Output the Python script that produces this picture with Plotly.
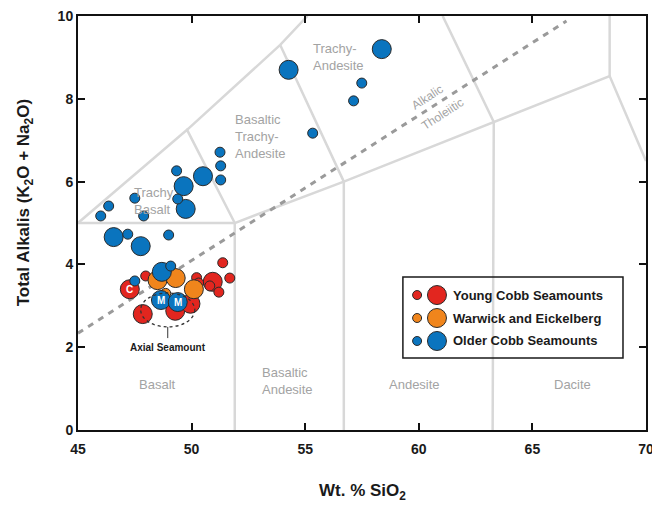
import plotly.graph_objects as go

# ---------------- data ----------------
# Young Cobb Seamounts
young_small_x = [47.98, 51.37, 51.68, 50.22, 50.31, 50.80, 51.20]
young_small_y = [3.72, 4.04, 3.67, 3.68, 3.55, 3.48, 3.33]
young_big_x = [47.28, 47.85, 49.28, 49.95, 50.93]
young_big_y = [3.40, 2.80, 2.88, 3.05, 3.58]

# Warwick and Eickelberg
warwick_small_x = [48.86]
warwick_small_y = [3.30]
warwick_big_x = [48.50, 49.30, 50.10]
warwick_big_y = [3.62, 3.67, 3.40]

# Older Cobb Seamounts
older_small_x = [57.49, 57.13, 55.33, 51.25, 51.28, 51.28, 49.34, 49.39, 47.50,
                 46.35, 46.00, 47.89, 47.19, 48.99, 47.50, 49.08]
older_small_y = [8.38, 7.95, 7.17, 6.71, 6.38, 6.04, 6.26, 5.58, 5.60,
                 5.41, 5.17, 5.17, 4.73, 4.71, 3.60, 3.96]
older_big_x = [58.37, 54.27, 50.50, 49.65, 49.74, 46.57, 47.76, 48.69, 48.65, 49.39]
older_big_y = [9.20, 8.70, 6.13, 5.89, 5.34, 4.66, 4.44, 3.82, 3.14, 3.09]

# labelled samples (letter drawn on the marker)
tag_text = ["C", "M", "M"]
tag_x = [47.28, 48.65, 49.39]
tag_y = [3.40, 3.14, 3.09]

# TAS field boundaries (polylines)
field_lines = [
    [(45, 5.0), (51.9, 5.0)],
    [(51.9, 0), (51.9, 5.0), (56.7, 6.0), (63.3, 7.44), (68.4, 8.55), (70, 6.5)],
    [(45, 5.0), (49.8, 7.25), (51.9, 5.0)],
    [(49.8, 7.25), (53.9, 9.3), (55.1, 10)],
    [(53.9, 9.3), (56.7, 6.0), (56.7, 0)],
    [(61.05, 10), (63.3, 7.44), (63.25, 0)],
    [(68.4, 10), (68.4, 8.55)],
]
alk_thol_x = [45, 66.5]
alk_thol_y = [2.34, 9.88]

x_ticks = [45, 50, 55, 60, 65, 70]
y_ticks = [0, 2, 4, 6, 8, 10]

legend_names = ["Young Cobb Seamounts", "Warwick and Eickelberg", "Older Cobb Seamounts"]

RED = "#E2261F"
ORANGE = "#F0851C"
BLUE = "#0A74BE"
OUTLINE = "#2a2a2a"
FIELD = "#d8d8d8"
LABEL = "#a3a3a3"
FONT = "Liberation Sans, Arial, sans-serif"

SMALL = 10
BIG = 19

fig = go.Figure()

# field boundaries
bx, by = [], []
for line in field_lines:
    for (a, b) in line:
        bx.append(a)
        by.append(b)
    bx.append(None)
    by.append(None)
fig.add_trace(go.Scatter(x=bx, y=by, mode="lines",
                         line=dict(color=FIELD, width=2.5),
                         hoverinfo="skip", showlegend=False))

# alkalic / tholeiitic divider
fig.add_trace(go.Scatter(x=alk_thol_x, y=alk_thol_y, mode="lines",
                         line=dict(color="#9a9a9a", width=3, dash="6px,6px"),
                         hoverinfo="skip", showlegend=False))


def pts(x, y, color, size):
    return go.Scatter(
        x=x, y=y, mode="markers",
        marker=dict(color=color, size=size, line=dict(color=OUTLINE, width=1)),
        showlegend=False, hoverinfo="x+y")


fig.add_trace(pts(young_big_x, young_big_y, RED, BIG))
fig.add_trace(pts(young_small_x, young_small_y, RED, SMALL))
fig.add_trace(pts(warwick_big_x, warwick_big_y, ORANGE, BIG))
fig.add_trace(pts(warwick_small_x, warwick_small_y, ORANGE, SMALL))
fig.add_trace(pts(older_big_x, older_big_y, BLUE, BIG))
fig.add_trace(pts(older_small_x, older_small_y, BLUE, SMALL))

annotations = []
shapes = [
    dict(type="rect", xref="paper", yref="paper", x0=0.572, x1=0.9595, y0=0.174, y1=0.3696,
         line=dict(color="#1a1a1a", width=1.5), fillcolor="rgba(0,0,0,0)"),
    # Axial Seamount dotted ellipse
    dict(type="circle", xref="x", yref="y", x0=47.76, x1=50.14, y0=2.49, y1=3.31,
         line=dict(color="#333", width=1.3, dash="dot")),
    dict(type="line", xref="x", yref="y", x0=48.95, x1=48.95, y0=2.22, y1=2.49,
         line=dict(color="#333", width=1)),
]

# ---- manual legend: pixel-sized circle symbols + labels ----
rows_y = [0.326, 0.2705, 0.215]
colors = [RED, ORANGE, BLUE]
for name, yy, col in zip(legend_names, rows_y, colors):
    for xa, d in ((0.597, 9), (0.632, 19)):
        shapes.append(dict(type="circle", xref="paper", yref="paper",
                           xsizemode="pixel", ysizemode="pixel", xanchor=xa, yanchor=yy,
                           x0=-d / 2, x1=d / 2, y0=-d / 2, y1=d / 2,
                           fillcolor=col, line=dict(color=OUTLINE, width=1)))
    annotations.append(dict(x=0.657, y=yy, xref="paper", yref="paper", text=name,
                            showarrow=False, xanchor="left", yanchor="middle",
                            font=dict(family=FONT, size=13, color="#1a1a1a", weight="bold")))

for t, xx, yy in zip(tag_text, tag_x, tag_y):
    annotations.append(dict(x=xx, y=yy, xref="x", yref="y", text=t, showarrow=False,
                            xanchor="center", yanchor="middle",
                            font=dict(family=FONT, size=10, color="white", weight="bold")))


# field labels
def flabel(x, y, text, anchor="center"):
    annotations.append(dict(x=x, y=y, xref="x", yref="y", text=text, showarrow=False,
                            xanchor=anchor, yanchor="middle", align="left",
                            font=dict(family=FONT, size=13, color=LABEL)))


flabel(55.24, 9.0, "Trachy-<br>Andesite", "left")
flabel(51.8, 7.08, "Basaltic<br>Trachy-<br>Andesite", "left")
flabel(47.37, 5.53, "Trachy<br>Basalt", "left")
flabel(48.5, 1.11, "Basalt")
flabel(54.2, 1.18, "Basaltic<br>Andesite")
flabel(59.8, 1.09, "Andesite")
flabel(66.75, 1.09, "Dacite")

annotations.append(dict(x=48.95, y=2.0, xref="x", yref="y", text="Axial Seamount",
                        showarrow=False, font=dict(family=FONT, size=10, color="#1a1a1a", weight="bold")))
annotations.append(dict(x=60.39, y=8.04, xref="x", yref="y", text="Alkalic", textangle=-33,
                        showarrow=False, font=dict(family=FONT, size=12, color=LABEL)))
annotations.append(dict(x=61.05, y=7.63, xref="x", yref="y", text="Tholeiitic", textangle=-33,
                        showarrow=False, font=dict(family=FONT, size=12, color=LABEL)))

# axis titles
annotations.append(dict(x=0.5, y=-0.15, xref="paper", yref="paper", text="Wt. % SiO<sub>2</sub>",
                        showarrow=False, yanchor="middle",
                        font=dict(family=FONT, size=17, color="#1a1a1a", weight="bold")))
annotations.append(dict(x=-0.093, y=0.548, xref="paper", yref="paper",
                        text="Total Alkalis (K<sub>2</sub>O + Na<sub>2</sub>O)", textangle=-90,
                        showarrow=False, xanchor="center", yanchor="middle",
                        font=dict(family=FONT, size=17, color="#1a1a1a", weight="bold")))

axis_common = dict(showline=True, linecolor="#111", linewidth=2, mirror="ticks",
                   ticks="inside", ticklen=7, tickwidth=1.5, tickcolor="#111",
                   showgrid=False, zeroline=False, automargin=False,
                   ticklabeloverflow="allow",
                   tickfont=dict(family=FONT, size=14, color="#1a1a1a", weight="bold"))

fig.update_layout(
    width=652, height=505,
    margin=dict(l=78, r=6, t=16, b=75, autoexpand=False),
    paper_bgcolor="white", plot_bgcolor="white",
    xaxis=dict(range=[45, 70], tickvals=x_ticks, ticklabelstandoff=5, **axis_common),
    yaxis=dict(range=[0, 10], tickvals=y_ticks, **axis_common),
    annotations=annotations, shapes=shapes, showlegend=False,
)

fig.write_html(
    "out.html",
    config={"displayModeBar": False},
    post_script=("document.body.style.margin='0';"
                 "document.body.style.overflow='hidden';"
                 "document.documentElement.style.overflow='hidden';"),
)
